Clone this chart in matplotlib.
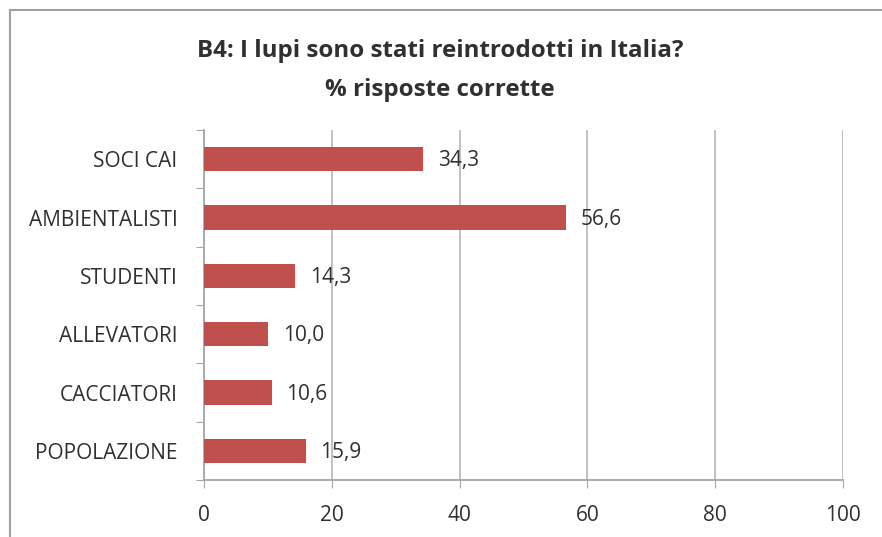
import numpy as np
import matplotlib.pyplot as plt
from matplotlib.lines import Line2D

categories = ["SOCI CAI", "AMBIENTALISTI", "STUDENTI", "ALLEVATORI", "CACCIATORI", "POPOLAZIONE"]
values = [34.3, 56.6, 14.3, 10.0, 10.6, 15.9]
x_ticks = [0, 20, 40, 60, 80, 100]

bar_color = "#C0504D"
grid_color = "#BBBBBB"
axis_color = "#A6A6A6"
text_color = "#303030"

plt.rcParams['font.family'] = ['Open Sans', 'DejaVu Sans']

fig = plt.figure(figsize=(8.82, 5.37), dpi=100)
ax = fig.add_axes([0.2313, 0.1061, 0.9558 - 0.2313, 0.7579 - 0.1061])

pos = np.arange(len(categories))
ax.barh(pos, values, height=0.42, color=bar_color, zorder=3)

for p, v in zip(pos, values):
	ax.text(v + 2.3, p + 0.03, ("%.1f" % v).replace(".", ","), va="center", ha="left",
			fontsize=15, color=text_color)

ax.set_xlim(0, 100)
ax.set_ylim(len(categories) - 0.5, -0.5)
ax.set_xticks(x_ticks)
ax.set_xticklabels([str(t) for t in x_ticks], fontsize=15, color=text_color)
ax.tick_params(axis="x", length=6, color=axis_color, pad=12)

# category boundaries get the tick marks, names sit between them
ax.set_yticks(np.arange(-0.5, len(categories), 1.0))
ax.set_yticklabels([])
ax.set_yticks(pos, minor=True)
ax.set_yticklabels(categories, minor=True, fontsize=15, color=text_color)
ax.tick_params(axis="y", which="major", length=6, color=axis_color)
ax.tick_params(axis="y", which="minor", length=0, pad=19)

ax.xaxis.grid(True, color=grid_color, linewidth=1.3, zorder=0)
ax.set_axisbelow(True)
for side in ["top", "right"]:
	ax.spines[side].set_visible(False)
for side in ["left", "bottom"]:
	ax.spines[side].set_color(axis_color)
	ax.spines[side].set_linewidth(1.3)

fig.text(0.499, 0.905, "B4: I lupi sono stati reintrodotti in Italia?", ha="center", va="center",
		 fontsize=17.4, fontweight="bold", color=text_color)
fig.text(0.499, 0.833, "% risposte corrette", ha="center", va="center",
		 fontsize=17.4, fontweight="bold", color=text_color)

# outer frame of the chart area (top and left edges)
fig.add_artist(Line2D([10 / 882, 1.0], [1 - 10 / 537, 1 - 10 / 537], color="#A0A0A0", linewidth=1.5))
fig.add_artist(Line2D([10 / 882, 10 / 882], [0.0, 1 - 10 / 537], color="#A0A0A0", linewidth=1.5))

fig.savefig("out.png", dpi=100)
